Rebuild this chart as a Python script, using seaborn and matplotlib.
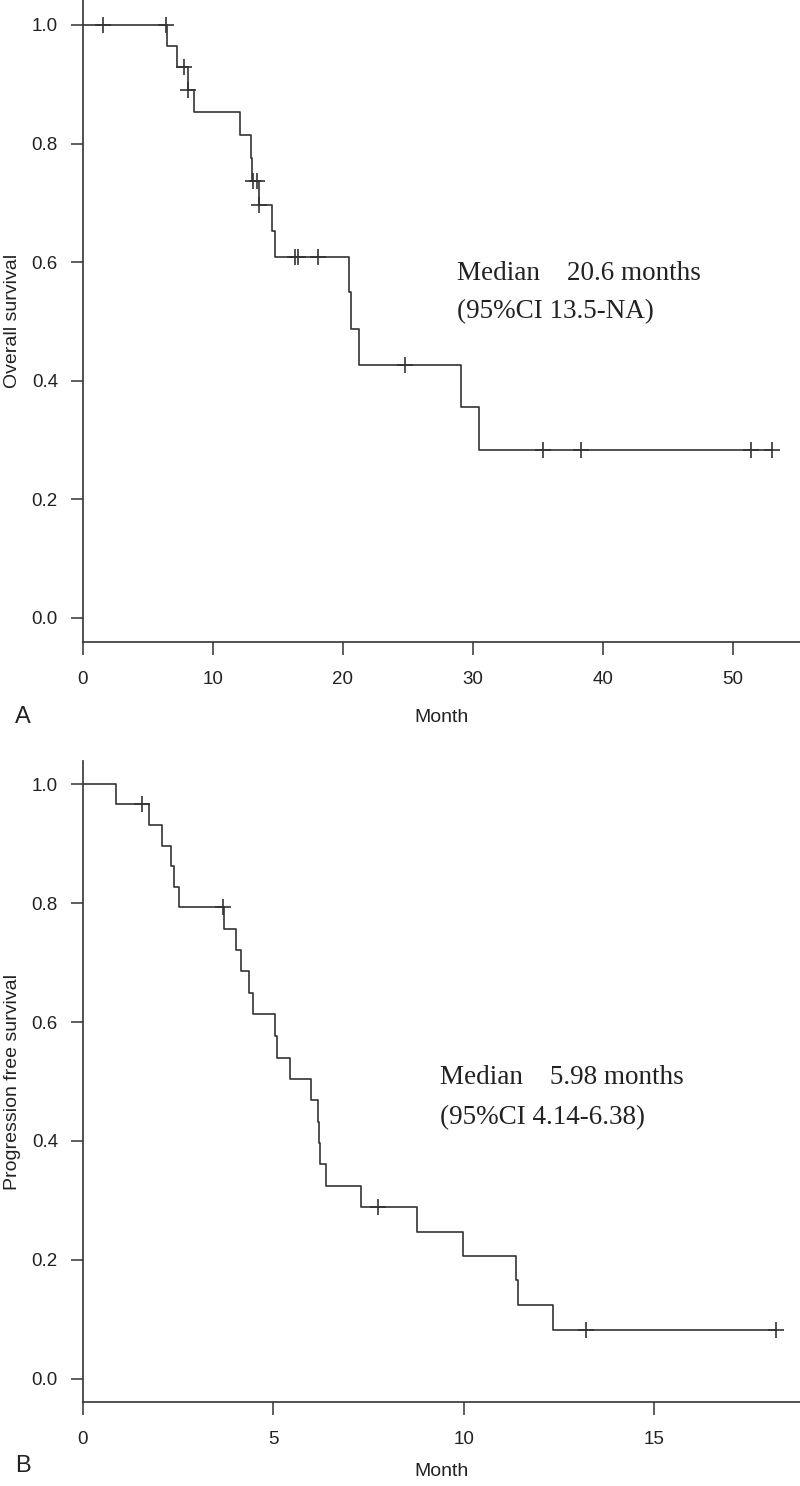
import numpy as np
import pandas as pd
import matplotlib
matplotlib.use("Agg")
import matplotlib.pyplot as plt
import seaborn as sns

# ---------------- data ----------------
# Panel A: overall survival
os_event_times = [6.45, 7.26, 8.05, 8.54, 12.1, 12.9, 13.0, 13.54, 14.5, 14.77,
                  20.5, 20.62, 21.2, 29.1, 30.5]
os_surv = [0.964, 0.929, 0.891, 0.853, 0.814, 0.775, 0.736, 0.697, 0.653, 0.608,
           0.549, 0.487, 0.426, 0.355, 0.283]
os_censor = [1.56, 6.4, 7.77, 8.1, 13.1, 13.36, 13.56, 16.3, 16.5, 18.1,
             24.8, 35.4, 38.3, 51.4, 53.0]
os_xticks = [0, 10, 20, 30, 40, 50]

# Panel B: progression free survival
pfs_event_times = [0.87, 1.73, 2.07, 2.30, 2.39, 2.52, 3.71, 4.01, 4.14, 4.37,
                   4.46, 5.04, 5.10, 5.45, 5.98, 6.18, 6.20, 6.22, 6.38, 7.29,
                   8.77, 9.97, 11.37, 11.42, 12.35]
pfs_surv = [0.966, 0.931, 0.896, 0.862, 0.827, 0.793, 0.757, 0.721, 0.686, 0.648,
            0.613, 0.576, 0.540, 0.505, 0.469, 0.4325, 0.397, 0.361, 0.325, 0.2885,
            0.2476, 0.207, 0.166, 0.124, 0.083]
pfs_censor = [1.54, 3.68, 7.74, 13.2, 18.2]
pfs_xticks = [0, 5, 10, 15]

yticks = [0.0, 0.2, 0.4, 0.6, 0.8, 1.0]

os_text = ["Median    20.6 months", "(95%CI 13.5-NA)"]
pfs_text = ["Median    5.98 months", "(95%CI 4.14-6.38)"]

# ---------------- style ----------------
sns.set_theme(style="white")
plt.rcParams["font.family"] = ["Liberation Sans", "DejaVu Sans"]
INK = "#333333"

W, H = 800, 1486
fig = plt.figure(figsize=(W / 100, H / 100), dpi=100)
ax1 = fig.add_axes([83 / W, (H - 642) / H, 717 / W, 642 / H])
ax2 = fig.add_axes([83 / W, (H - 1402) / H, 717 / W, 641 / H])


def km_frame(times, surv, censor):
    t = [0.0] + list(times) + [max(censor)]
    s = [1.0] + list(surv) + [surv[-1]]
    return pd.DataFrame({"time": t, "surv": s})


def censor_frame(times, surv, censor):
    ev = np.asarray(times)
    sv = np.asarray(surv)
    lv = []
    for c in censor:
        idx = np.where(ev <= c)[0]
        lv.append(1.0 if len(idx) == 0 else sv[idx[-1]])
    return pd.DataFrame({"time": censor, "surv": lv})


def draw(ax, times, surv, censor, xticks, xlim, ylim, ylabel, lines, tx, ty, lab_y):
    df = km_frame(times, surv, censor)
    cf = censor_frame(times, surv, censor)
    sns.lineplot(data=df, x="time", y="surv", drawstyle="steps-post",
                 estimator=None, sort=False, color=INK, linewidth=1.2, ax=ax)
    sns.scatterplot(data=cf, x="time", y="surv", marker="+", s=130,
                    color=INK, linewidth=1.2, ax=ax, zorder=3)
    ax.set_xlim(*xlim)
    ax.set_ylim(*ylim)
    ax.set_xticks(xticks)
    ax.set_yticks(yticks)
    ax.set_yticklabels([f"{v:.1f}" for v in yticks])
    ax.set_xticklabels([str(v) for v in xticks])
    for side in ["top", "right"]:
        ax.spines[side].set_visible(False)
    for side in ["left", "bottom"]:
        ax.spines[side].set_color(INK)
        ax.spines[side].set_linewidth(1.2)
    ax.tick_params(axis="both", which="major", bottom=True, left=True,
                   direction="out", length=9, width=1.1,
                   color=INK, labelcolor="#222222", labelsize=13.5)
    ax.tick_params(axis="x", pad=12)
    ax.tick_params(axis="y", pad=9)
    ax.set_xlabel("Month", fontsize=14, color="#222222", va="center")
    ax.xaxis.set_label_coords(0.5, lab_y)
    ax.set_ylabel(ylabel, fontsize=14, color="#222222", va="center")
    ax.yaxis.set_label_coords(-0.099, 0.5)
    for line, yy in zip(lines, ty):
        ax.text(tx, yy, line, family=["Liberation Serif", "DejaVu Serif"],
                fontsize=19.5, color="#222222", ha="left", va="center")
    ax.grid(False)


draw(ax1, os_event_times, os_surv, os_censor, os_xticks, (0, 717 / 13.0),
     (-0.0405, 1.042), "Overall survival", os_text, 28.77, (0.580, 0.516), -0.117)
draw(ax2, pfs_event_times, pfs_surv, pfs_censor, pfs_xticks, (0, 717 / 38.07),
     (-0.0387, 1.0387), "Progression free survival", pfs_text, 9.38, (0.506, 0.440), -0.108)

fig.text(15 / W, 1 - 717 / H, "A", fontsize=17, color="#222222", ha="left", va="center")
fig.text(15 / W, 1 - 1466 / H, "B", fontsize=17, color="#222222", ha="left", va="center")

fig.savefig("out.png", dpi=100)
